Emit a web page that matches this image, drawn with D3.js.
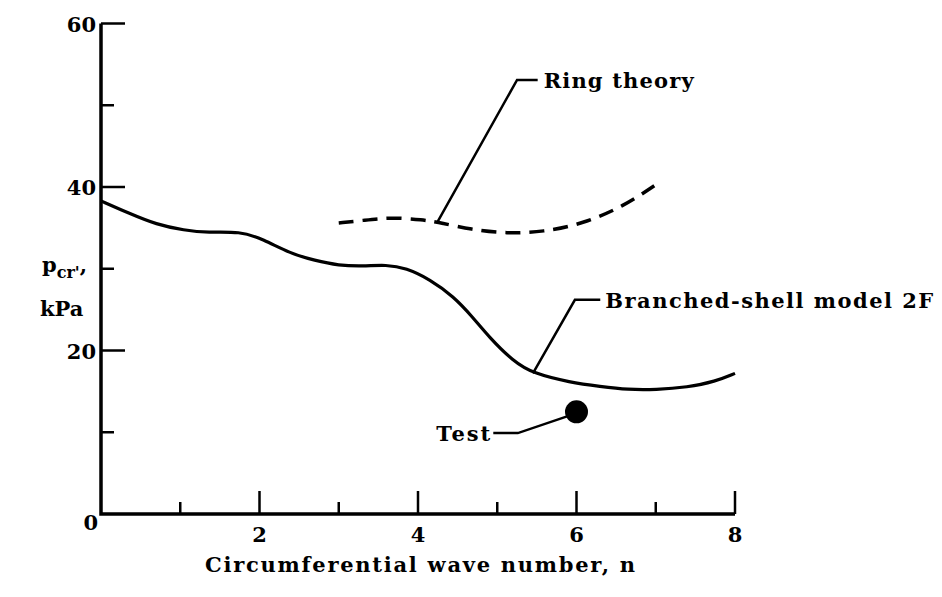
<!DOCTYPE html>
<html>
<head>
<meta charset="utf-8">
<script src="https://cdn.jsdelivr.net/npm/d3@7"></script>
<style>
  body { margin: 0; background: #fff; }
  text { font-family: "DejaVu Serif", serif; font-weight: bold; fill: #000; }
</style>
</head>
<body>
<svg id="chart" width="942" height="597"></svg>
<script>
// Data (n, p_cr in kPa)
const branchedShell = [
  [0, 38.3], [0.35, 36.8], [0.7, 35.4], [1.05, 34.7], [1.35, 34.4], [1.75, 34.6],
  [2.05, 33.6], [2.38, 31.9], [2.7, 31.0], [3.0, 30.4], [3.3, 30.3], [3.6, 30.5],
  [3.85, 30.1], [4.15, 28.7], [4.45, 26.6], [4.68, 24.2], [4.9, 21.6], [5.2, 18.7],
  [5.45, 17.2], [5.92, 16.1], [6.3, 15.6], [6.65, 15.2], [7.0, 15.2], [7.4, 15.5],
  [7.75, 16.2], [8.0, 17.2]
];
const ringTheory = [
  [3.0, 35.6], [3.3, 35.9], [3.65, 36.3], [4.06, 36.0], [4.3, 35.6], [4.66, 34.8],
  [5.12, 34.3], [5.58, 34.5], [6.08, 35.5], [6.59, 37.6], [7.02, 40.4]
];
const testPoint = [6.0, 12.5];

const xMajor = [2, 4, 6, 8];
const xMinor = [1, 3, 5, 7];
const yMajor = [20, 40, 60];
const yMinor = [10, 30, 50];

// annotation leaders, in data units
const ringLeader = [[4.25, 35.8], [5.25, 53.1], [5.51, 53.1]];
const branchLeader = [[5.45, 17.2], [5.98, 26.2], [6.3, 26.2]];
const testLeader = [[5.9, 12.0], [5.26, 9.9], [4.95, 9.9]];

const svg = d3.select("#chart");
const x = d3.scaleLinear().domain([0, 8]).range([101, 735]);
const y = d3.scaleLinear().domain([0, 60]).range([514, 23.5]);

const line = d3.line().x(d => x(d[0])).y(d => y(d[1]));
const smooth = d3.line().x(d => x(d[0])).y(d => y(d[1])).curve(d3.curveBasis);

// axes
svg.append("path")
  .attr("d", `M${x(0)},${y(60)}V${y(0)}H${x(8)}`)
  .attr("fill", "none").attr("stroke", "#000").attr("stroke-width", 3.5);

svg.selectAll(".ytick").data(yMajor.concat(yMinor)).enter().append("line")
  .attr("x1", x(0)).attr("x2", d => x(0) + (yMajor.includes(d) ? 24 : 13))
  .attr("y1", d => y(d)).attr("y2", d => y(d))
  .attr("stroke", "#000").attr("stroke-width", 2.5);

svg.selectAll(".xtick").data(xMajor.concat(xMinor)).enter().append("line")
  .attr("x1", d => x(d)).attr("x2", d => x(d))
  .attr("y1", y(0)).attr("y2", d => y(0) - (xMajor.includes(d) ? 23 : 12))
  .attr("stroke", "#000").attr("stroke-width", 2.5);

svg.selectAll(".ylab").data([0].concat(yMajor)).enter().append("text")
  .attr("x", d => d === 0 ? x(0) - 3 : x(0) - 5)
  .attr("y", d => d === 0 ? y(0) + 16 : y(d) + 8)
  .attr("text-anchor", "end").attr("font-size", 21)
  .text(d => d);

svg.selectAll(".xlab").data(xMajor).enter().append("text")
  .attr("x", d => x(d)).attr("y", y(0) + 28)
  .attr("text-anchor", "middle").attr("font-size", 21)
  .text(d => d);

svg.append("text")
  .attr("x", (x(0) + x(8)) / 2 + 2).attr("y", 572)
  .attr("text-anchor", "middle").attr("font-size", 21)
  .attr("textLength", 430).attr("lengthAdjust", "spacing")
  .text("Circumferential wave number, n");

// y axis title
const yt = svg.append("text").attr("x", 42).attr("y", 272).attr("font-size", 21);
yt.append("tspan").text("p");
yt.append("tspan").attr("font-size", 16).attr("dy", 6).text("cr'");
yt.append("tspan").attr("dy", -6).text(",");
svg.append("text").attr("x", 40).attr("y", 316).attr("font-size", 21).text("kPa");

// curves
svg.append("path").datum(branchedShell).attr("d", smooth)
  .attr("fill", "none").attr("stroke", "#000").attr("stroke-width", 3.2);
svg.append("path").datum(ringTheory).attr("d", smooth)
  .attr("fill", "none").attr("stroke", "#000").attr("stroke-width", 3.5)
  .attr("stroke-dasharray", "15 9");

svg.append("circle")
  .attr("cx", x(testPoint[0])).attr("cy", y(testPoint[1])).attr("r", 11.5)
  .attr("fill", "#000");

// leaders and labels
[ringLeader, branchLeader, testLeader].forEach(pts => {
  svg.append("path").datum(pts).attr("d", line)
    .attr("fill", "none").attr("stroke", "#000").attr("stroke-width", 2.5);
});

svg.append("text")
  .attr("x", x(ringLeader[2][0]) + 6).attr("y", y(ringLeader[2][1]) + 8)
  .attr("font-size", 21).attr("textLength", 150).attr("lengthAdjust", "spacing")
  .text("Ring theory");
svg.append("text")
  .attr("x", x(branchLeader[2][0]) + 5).attr("y", y(branchLeader[2][1]) + 8)
  .attr("font-size", 21).attr("textLength", 328).attr("lengthAdjust", "spacing")
  .text("Branched-shell model 2F");
svg.append("text")
  .attr("x", x(testLeader[2][0]) - 3).attr("y", y(testLeader[2][1]) + 8)
  .attr("text-anchor", "end").attr("font-size", 21)
  .attr("textLength", 54).attr("lengthAdjust", "spacing")
  .text("Test");
</script>
</body>
</html>
